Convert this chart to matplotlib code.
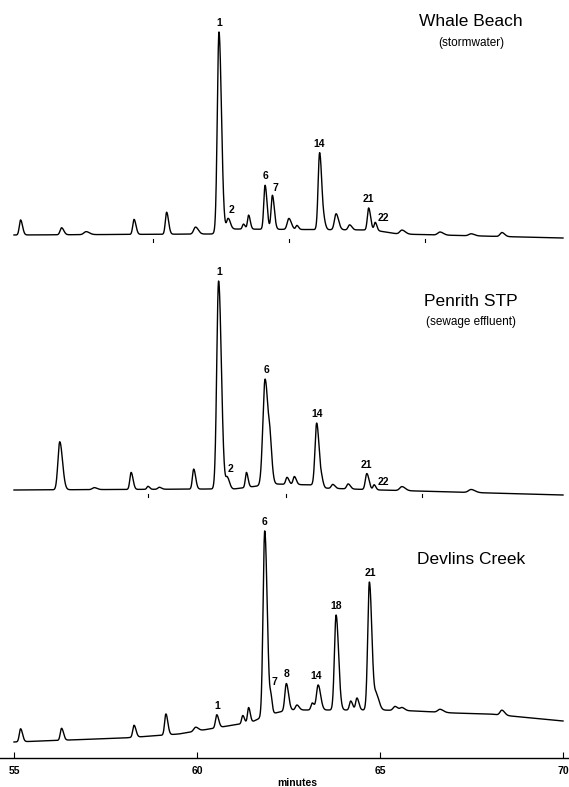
import numpy as np
import matplotlib
matplotlib.use('Agg')
import matplotlib.pyplot as plt

plt.rcParams['font.family'] = ['Liberation Sans', 'DejaVu Sans']

# ---- Whale Beach (stormwater) ----
wb_rt = [55.18, 56.30, 56.97, 58.28, 59.17, 59.96, 60.60, 60.85, 61.27, 61.41,
         61.86, 62.06, 62.51, 62.73, 63.35, 63.48, 63.80, 64.17, 64.69, 64.87,
         65.60, 66.64, 67.49, 68.33]
wb_h = [15, 7, 3, 15, 22, 7, 200, 11, 5, 14, 44, 34, 11, 4, 77, 5, 16, 5, 22, 8,
        4, 3, 2, 4]
wb_sig = [0.035, 0.04, 0.06, 0.035, 0.035, 0.05, 0.045, 0.04, 0.03, 0.03,
          0.035, 0.035, 0.045, 0.03, 0.04, 0.03, 0.045, 0.04, 0.035, 0.03,
          0.06, 0.06, 0.06, 0.05]
wb_base_t = [55, 60.4, 60.9, 64.8, 65.5, 70]
wb_base_v = [0, 1, 6, 5, 1, -3]
wb_labels = [('1', 60.60, 0, 4), ('2', 60.85, 3, 3), ('6', 61.86, 0, 4),
             ('7', 62.06, 3, 2), ('14', 63.35, 0, 4), ('21', 64.69, 0, 4),
             ('22', 64.87, 8, -1)]

# ---- Penrith STP (sewage effluent) ----
sp_rt = [56.25, 57.19, 58.20, 58.66, 58.97, 59.91, 60.59, 60.83, 61.35, 61.86,
         62.00, 62.46, 62.66, 63.27, 63.41, 63.71, 64.13, 64.64, 64.84, 65.60,
         67.49]
sp_h = [48, 2, 17, 3, 2, 20, 208, 11, 15, 106, 22, 7, 8, 63, 6, 4, 5, 16, 5, 4, 3]
sp_sig = [0.05, 0.05, 0.035, 0.03, 0.04, 0.035, 0.05, 0.04, 0.03, 0.06,
          0.035, 0.035, 0.035, 0.045, 0.03, 0.04, 0.04, 0.04, 0.03, 0.06, 0.07]
sp_base_t = [55, 60.4, 61.0, 62.1, 63.2, 63.4, 65, 70]
sp_base_v = [0, 1, 1, 6, 5, 2, 0, -5]
sp_labels = [('1', 60.59, 1, 4), ('2', 60.83, 3, 3), ('6', 61.86, 1, 4),
             ('14', 63.27, 0, 4), ('21', 64.64, 0, 4), ('22', 64.84, 9, -2)]

# ---- Devlins Creek ----
dc_rt = [55.18, 56.30, 58.28, 59.15, 59.96, 60.54, 61.25, 61.41, 61.85, 62.02,
         62.44, 62.73, 63.15, 63.31, 63.80, 64.20, 64.37, 64.71, 64.90, 65.41,
         65.60, 66.64, 68.33]
dc_h = [13, 12, 12, 21, 4, 13, 8, 15, 185, 14, 27, 5, 7, 25, 95, 9, 12, 128, 15,
        4, 3, 3, 5]
dc_sig = [0.035, 0.035, 0.035, 0.035, 0.05, 0.035, 0.03, 0.03, 0.045, 0.025,
          0.04, 0.04, 0.035, 0.045, 0.045, 0.035, 0.035, 0.045, 0.05, 0.05,
          0.05, 0.06, 0.05]
dc_base_t = [55, 58, 59.5, 60.5, 61.5, 61.9, 62.5, 65, 66, 67, 68, 70]
dc_base_v = [0, 4, 8, 14, 20, 27, 32, 32, 31, 29, 28, 21]
dc_labels = [('1', 60.54, 0, 4), ('6', 61.85, 0, 4), ('7', 62.02, 4, 6),
             ('8', 62.44, 0, 4), ('14', 63.31, -2, 4), ('18', 63.80, 0, 4),
             ('21', 64.71, 1, 4)]

traces = [
    (wb_rt, wb_h, wb_sig, wb_base_t, wb_base_v, wb_labels, 235,
     'Whale Beach', '(stormwater)', 22, 43, [58.80, 62.51, 66.24]),
    (sp_rt, sp_h, sp_sig, sp_base_t, sp_base_v, sp_labels, 490,
     'Penrith STP', '(sewage effluent)', 302, 322, [58.66, 62.42, 66.15]),
    (dc_rt, dc_h, dc_sig, dc_base_t, dc_base_v, dc_labels, 742,
     'Devlins Creek', None, 559, None, []),
]

px_per_min = 36.6
title_x = 67.49
fig = plt.figure(figsize=(5.69, 7.87), dpi=100)
ax = fig.add_axes([0, 0, 1, 1])
ax.set_xlim(55 - 14 / px_per_min, 70 + 6 / px_per_min)
ax.set_ylim(787, 0)

t = np.linspace(55.0, 70.0, 4000)


def trace(rt, h, sig, bt, bv):
    y = np.interp(t, bt, bv).astype(float)
    for r, a, s in zip(rt, h, sig):
        s_arr = np.where(t < r, s, s * 1.5)
        y += a * np.exp(-0.5 * ((t - r) / s_arr) ** 2)
    return y


for rt, h, sig, bt, bv, labels, off, title, sub, ty, sy, marks in traces:
    y = trace(rt, h, sig, bt, bv)
    ax.plot(t, off - y, color='black', lw=1.0)
    for lab, r, dx, dy in labels:
        top = off - y[np.argmin(np.abs(t - r))]
        ax.annotate(lab, (r, top), xytext=(dx, dy), textcoords='offset pixels',
                    ha='center', va='bottom', fontsize=7.5, fontweight='bold')
    ax.text(title_x, ty, title, ha='center', va='center', fontsize=12.5)
    if sub:
        ax.text(title_x, sy, sub, ha='center', va='center', fontsize=8.5)
    for m in marks:
        ax.plot([m, m], [off + 4, off + 7], color='black', lw=0.8)

for s in ['top', 'left', 'right']:
    ax.spines[s].set_visible(False)
ax.spines['bottom'].set_position(('data', 758))
ax.spines['bottom'].set_linewidth(1.0)
ax.set_xticks([55, 60, 65, 70])
ax.set_xticklabels(['55', '60', '65', '70'], fontsize=7.5, fontweight='bold')
ax.tick_params(axis='x', direction='in', length=4, width=0.8, pad=6)
ax.set_yticks([])
ax.text(62.73, 778, 'minutes', ha='center', va='top', fontsize=7.5, fontweight='bold')

fig.savefig('out.png', dpi=100)
